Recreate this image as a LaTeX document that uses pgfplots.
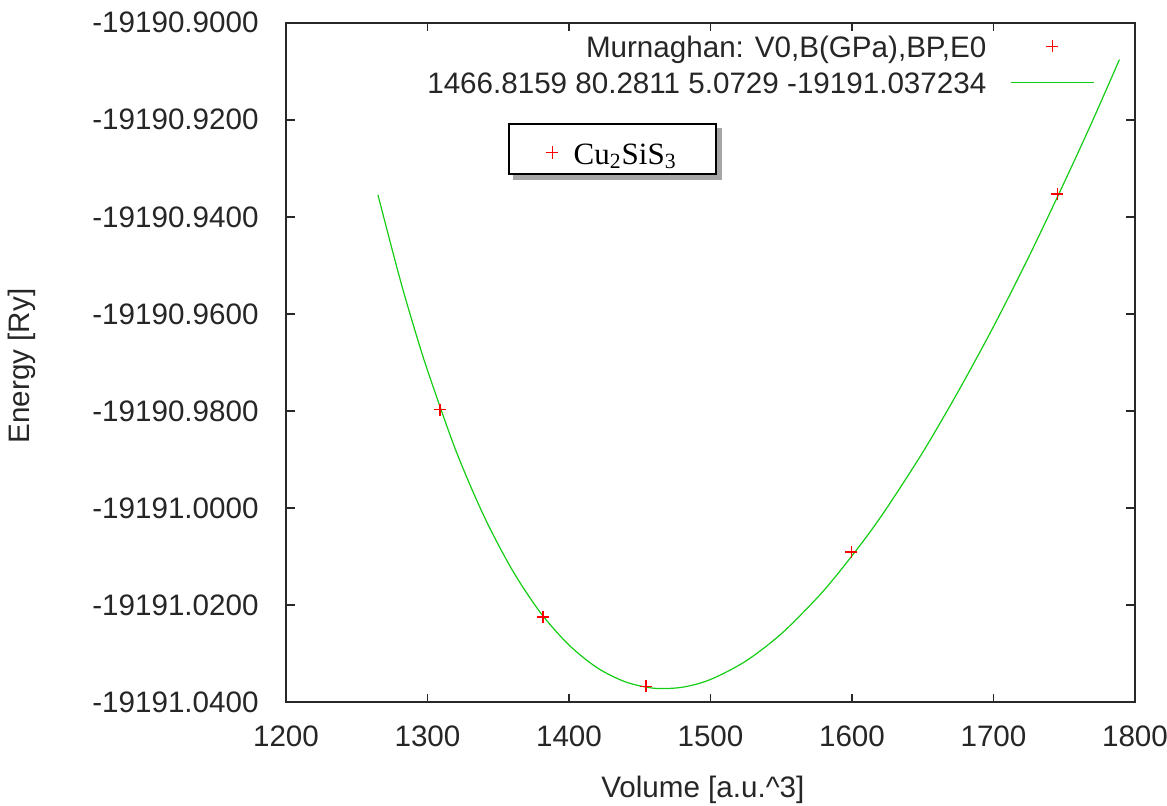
\documentclass[border=0pt]{standalone}
\usepackage{fontspec}
\setmainfont{Liberation Sans}
\newfontfamily\timesfont{Liberation Serif}
\usepackage{xfp}
\usepackage{pgfplots}
\pgfplotsset{compat=1.18}
\usepackage{pgfplotstable}

\definecolor{fitgreen}{RGB}{20,205,20}
\definecolor{axisgray}{RGB}{40,40,40}
\definecolor{ptred}{RGB}{255,0,0}

\pgfplotsset{
  shiftE/.style={y coord trafo/.code={\edef\pgfmathresult{\fpeval{##1+19191}}}},
  pointleg/.style={legend image code/.code={%
    \pgfpathmoveto{\pgfqpoint{0pt}{0pt}}\pgfpathlineto{\pgfqpoint{41.5pt}{0pt}}\pgfusepath{discard}%
    \draw[##1] plot coordinates {(20.75pt,0pt)};}},
  lineleg/.style={legend image code/.code={\draw[##1] (0pt,0pt) -- (41.5pt,0pt);}},
  boxleg/.style={legend image code/.code={%
    \pgfpathrectangle{\pgfqpoint{0pt}{-10.65pt}}{\pgfqpoint{27.5pt}{25pt}}\pgfusepath{discard}%
    \draw[##1] plot coordinates {(21.5pt,0pt)};}},
  emptyleg/.style={legend image code/.code={%
    \pgfpathrectangle{\pgfqpoint{0pt}{-10.65pt}}{\pgfqpoint{27.5pt}{25pt}}\pgfusepath{discard}}},
  boxaxis/.style={scale only axis, width=424.5pt, height=339.8pt, hide axis,
    xmin=0, xmax=1, ymin=0, ymax=1, legend cell align=left},
  boxlegstyle/.style={at={(0.2615,0.8524)}, anchor=north west, line width=1pt, inner sep=0pt,
    font=\timesfont\fontsize{15.5}{18}\selectfont,
    nodes={inner sep=0pt, text height=13.3pt, text depth=2pt}, column sep=4.85pt},
}

% E(V) data points (Volume [a.u.^3], Energy [Ry])
\pgfplotstableread{
V E
1308.9 -19190.9797
1381.6 -19191.0224
1454.3 -19191.0367
1599.6 -19191.0090
1745.2 -19190.9353
}\pointstable

% Murnaghan fit curve
\pgfplotstableread{
V E
1265 -19190.9355
1280 -19190.9522
1290 -19190.9623
1300 -19190.9716
1320 -19190.9881
1340 -19191.0017
1360 -19191.0128
1380 -19191.0216
1400 -19191.0282
1420 -19191.0329
1440 -19191.0358
1460 -19191.0371
1480 -19191.0369
1500 -19191.0353
1525 -19191.0315
1550 -19191.0259
1575 -19191.0186
1590 -19191.0135
1610 -19191.0060
1625 -19190.9998
1650 -19190.9885
1675 -19190.9760
1700 -19190.9626
1725 -19190.9482
1750 -19190.9329
1770 -19190.9202
1789 -19190.9076
}\fittable

\begin{document}
\begin{tikzpicture}
\useasboundingbox (-143pt,-51.35pt) rectangle (440.5pt,351.15pt);
\begin{axis}[
  scale only axis,
  width=424.5pt, height=339.8pt,
  xmin=1200, xmax=1800,
  xtick={1200,1300,1400,1500,1600,1700,1800},
  shiftE,
  ymin=-19191.04, ymax=-19190.90,
  ytick={-19191.04,-19191.02,-19191.00,-19190.98,-19190.96,-19190.94,-19190.92,-19190.90},
  yticklabels={-19191.0400,-19191.0200,-19191.0000,-19190.9800,-19190.9600,-19190.9400,-19190.9200,-19190.9000},
  /pgf/number format/assume math mode=true,
  /pgf/number format/1000 sep={},
  tick align=inside,
  major tick length=4.3pt,
  every tick/.style={axisgray, line width=0.8pt},
  axis line style={axisgray, line width=1pt},
  tick label style={font=\fontsize{14.8}{17}\selectfont, text=black!85},
  xticklabel style={anchor=north, inner sep=0pt, yshift=-11.7pt},
  yticklabel style={anchor=east, inner sep=0pt, xshift=-13.5pt},
  label style={font=\fontsize{14.8}{17}\selectfont, text=black!85},
  xlabel={Volume [a.u.\^{}3]},
  ylabel={Energy [Ry]},
  xlabel style={at={(axis description cs:0.491,-0.129)}, anchor=center},
  ylabel style={at={(axis description cs:-0.311,0.495)}, anchor=center},
  legend plot pos=right,
  legend cell align=right,
  legend style={draw=none, fill=none, at={(0.9529,1)}, anchor=north east, yshift=-3.95pt,
    inner sep=0pt, font=\fontsize{14.8}{17}\selectfont, text=black!85,
    nodes={inner sep=0pt, text height=13pt, text depth=2.4pt},
    row sep=2.6pt, column sep=12pt},
]
\addplot[fitgreen, line width=0.6pt, smooth, forget plot] table[x=V, y=E] {\fittable};
\addplot[color=ptred, only marks, mark=+, mark size=3pt, line width=0.75pt,
  mark options={solid, color=ptred, line width=0.75pt}, pointleg]
  table[x=V, y=E] {\pointstable};
\addlegendentry{Murnaghan: V0,B(GPa),BP,E0}
\addlegendimage{fitgreen, line width=0.6pt, lineleg}
\addlegendentry{1466.8159 80.2811 5.0729 -19191.037234}
\end{axis}
% shadow of the Cu2SiS3 key box
\begin{axis}[boxaxis,
  legend style={boxlegstyle, xshift=2.5pt, yshift=-2.5pt, draw=black!35, fill=black!35, text opacity=0}]
\addlegendimage{draw=none, emptyleg}
\addlegendentry{\makebox[71.15pt][l]{\phantom{Cu\textsubscript{2}SiS\textsubscript{3}}}}
\end{axis}
% Cu2SiS3 key box
\begin{axis}[boxaxis,
  legend style={boxlegstyle, draw=black, fill=white}]
\addlegendimage{color=ptred, only marks, mark=+, mark size=3.2pt, line width=0.5pt, boxleg}
\addlegendentry{\makebox[71.15pt][l]{Cu\textsubscript{2}SiS\textsubscript{3}}}
\end{axis}
\end{tikzpicture}
\end{document}
